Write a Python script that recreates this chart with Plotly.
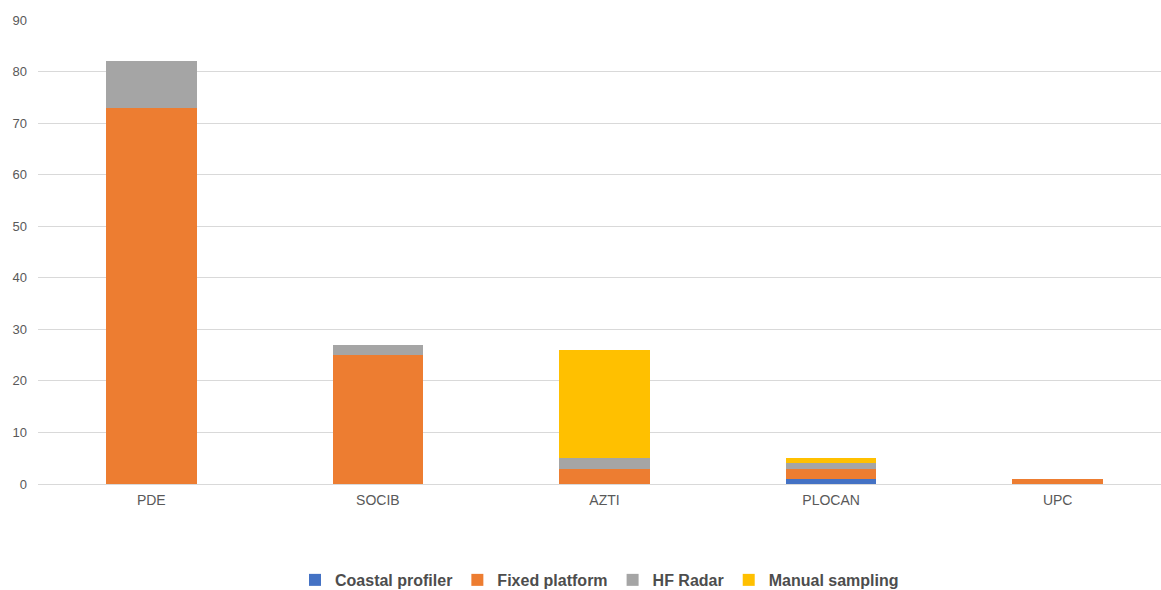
import plotly.graph_objects as go

categories = ["PDE", "SOCIB", "AZTI", "PLOCAN", "UPC"]
coastal_profiler = [0, 0, 0, 1, 0]
fixed_platform = [73, 25, 3, 2, 1]
hf_radar = [9, 2, 2, 1, 0]
manual_sampling = [0, 0, 21, 1, 0]
y_ticks = [0, 10, 20, 30, 40, 50, 60, 70, 80, 90]

series = [
    ("Coastal profiler", coastal_profiler, "#4472C4"),
    ("Fixed platform", fixed_platform, "#ED7D31"),
    ("HF Radar", hf_radar, "#A5A5A5"),
    ("Manual sampling", manual_sampling, "#FFC000"),
]

fig = go.Figure()
for name, vals, col in series:
    fig.add_trace(go.Bar(
        x=categories, y=vals, name=name,
        marker=dict(color=col, line=dict(width=0)),
        width=0.4,
    ))

fig.update_layout(
    barmode="stack",
    width=1161, height=590,
    margin=dict(l=38, r=0, t=20, b=106, autoexpand=False),
    paper_bgcolor="white", plot_bgcolor="white",
    font=dict(family="Liberation Sans, Arial, sans-serif", size=12, color="#595959"),
    showlegend=True,
    legend=dict(
        orientation="h", x=0.5, xanchor="center",
        yref="container", y=0.017, yanchor="middle",
        font=dict(size=16, color="#4D4D4D", family="Liberation Sans, Arial, sans-serif", weight="bold"),
        traceorder="normal", itemwidth=30,
    ),
    xaxis=dict(
        type="category", range=[-0.5, 4.456],
        showgrid=False, showline=False, zeroline=False,
        ticks="", ticklabelstandoff=6,
        tickfont=dict(size=14, color="#595959"),
    ),
    yaxis=dict(
        range=[0, 90], tickvals=y_ticks,
        showgrid=True, gridcolor="#D9D9D9", gridwidth=1,
        zeroline=True, zerolinecolor="#D9D9D9", zerolinewidth=1,
        showline=False, ticks="", ticklabelstandoff=10,
        tickfont=dict(size=13, color="#595959"),
    ),
    bargap=0.6,
)

fig.write_html("out.html")
